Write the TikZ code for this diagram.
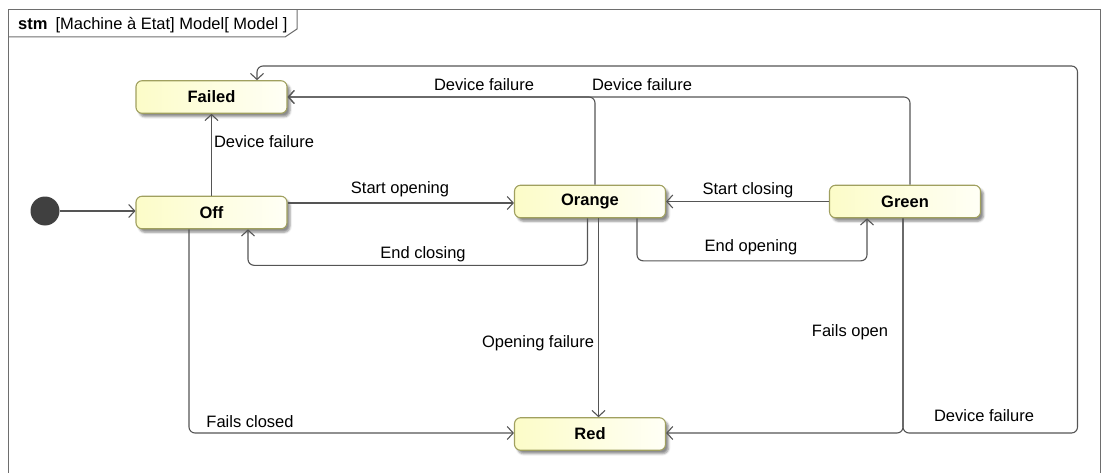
\documentclass[tikz,border=0pt]{standalone}
\usepackage{fontspec}
\setmainfont{Liberation Sans}
\usetikzlibrary{arrows.meta,shadows.blur,calc}
\definecolor{stateL}{RGB}{252,252,200}
\definecolor{stateR}{RGB}{255,255,246}
\definecolor{stateB}{RGB}{160,160,95}
\definecolor{lineC}{RGB}{85,85,85}
\definecolor{frameC}{RGB}{110,110,110}
\definecolor{initC}{RGB}{64,64,64}
\tikzset{
  state/.style={draw=stateB, line width=1.1pt, rounded corners=6pt,
    left color=stateL, right color=stateR,
    minimum width=151pt, minimum height=32.5pt, inner sep=0pt,
    font=\bfseries\fontsize{16.5}{19}\selectfont,
    blur shadow={shadow xshift=3pt, shadow yshift=-3.5pt, shadow blur steps=4, shadow opacity=45}},
  tr/.style={draw=lineC, line width=1.1pt, rounded corners=6pt,
    -{Straight Barb[length=6pt,width=13pt,line width=1.1pt]}},
  lbl/.style={font=\fontsize{16.5}{19}\selectfont, inner sep=0pt},
  hdr/.style={font=\fontsize{16.5}{19}\selectfont, inner sep=0pt, anchor=base west},
}
\begin{document}
\begin{tikzpicture}[x=1pt, y=-1pt]
\useasboundingbox (0,0) rectangle (1102,473);
% frame
\begin{scope}
\clip (0,0) rectangle (1102,473);
\draw[frameC, line width=1pt] (8,10) rectangle (1100.5,490);
\draw[frameC, line width=1pt] (8,37) -- (285,37) -- (297,29) -- (297,10);
\end{scope}
\node[hdr] (title) at (18,30) {{\bfseries stm}\hspace{8pt}[Machine à Etat] Model[ Model ]};

% states
\node[state] (failed) at (211.5,97) {Failed};
\node[state] (off) at (211.5,212.5) {Off};
\node[state] (orange) at (590,201.5) {Orange};
\node[state] (green) at (905,201.5) {Green};
\node[state] (red) at (590,434) {Red};
\node[circle, fill=initC, minimum size=29pt, inner sep=0pt] (init) at (45,211) {};
\coordinate (loopNE) at (1077.5,66);

% transitions
\draw[tr] (init.east) -- (init.east -| off.west);
\draw[tr] (off.north) -- (failed.south);
\draw[tr] ([yshift=9.5pt]off.east) -- ([yshift=9.5pt]off.east -| orange.west);
\draw[tr] (green.west) -- (orange.east);
\draw[tr] ([xshift=-2.5pt]orange.south) -- ++(0,47) -| ([xshift=36.5pt]off.south);
\draw[tr] ([xshift=5pt]orange.north) |- (failed.east);
\draw[tr] ([xshift=5pt]green.north) |- (failed.east);
\draw[tr] ([xshift=47pt]orange.south) -- ++(0,42.5) -| ([xshift=-38pt]green.south);
\draw[tr] ([xshift=8.5pt]orange.south) -- ([xshift=8.5pt]red.north);
\draw[tr] ([xshift=-22.5pt]off.south) |- ([yshift=1pt]red.west);
\draw[tr] ([xshift=-2pt]green.south) |- ([yshift=1pt]red.east);
\draw[tr] ([xshift=-2pt]green.south) |- ([yshift=1pt]loopNE |- red.east) -- (loopNE) -| ([xshift=45.5pt]failed.north);

% labels
\node[lbl] (t1) at (264,142) {Device failure};
\node[lbl] (t2) at (400,189) {Start opening};
\node[lbl] (t3) at (423,254) {End closing};
\node[lbl] (t4) at (484,85) {Device failure};
\node[lbl] (t5) at (642,85) {Device failure};
\node[lbl] (t6) at (748,190) {Start closing};
\node[lbl] (t7) at (751,247) {End opening};
\node[lbl] (t8) at (538,343) {Opening failure};
\node[lbl] (t9) at (850,332) {Fails open};
\node[lbl] (t10) at (250,422) {Fails closed};
\node[lbl] (t11) at (984,416) {Device failure};
\end{tikzpicture}
\end{document}
